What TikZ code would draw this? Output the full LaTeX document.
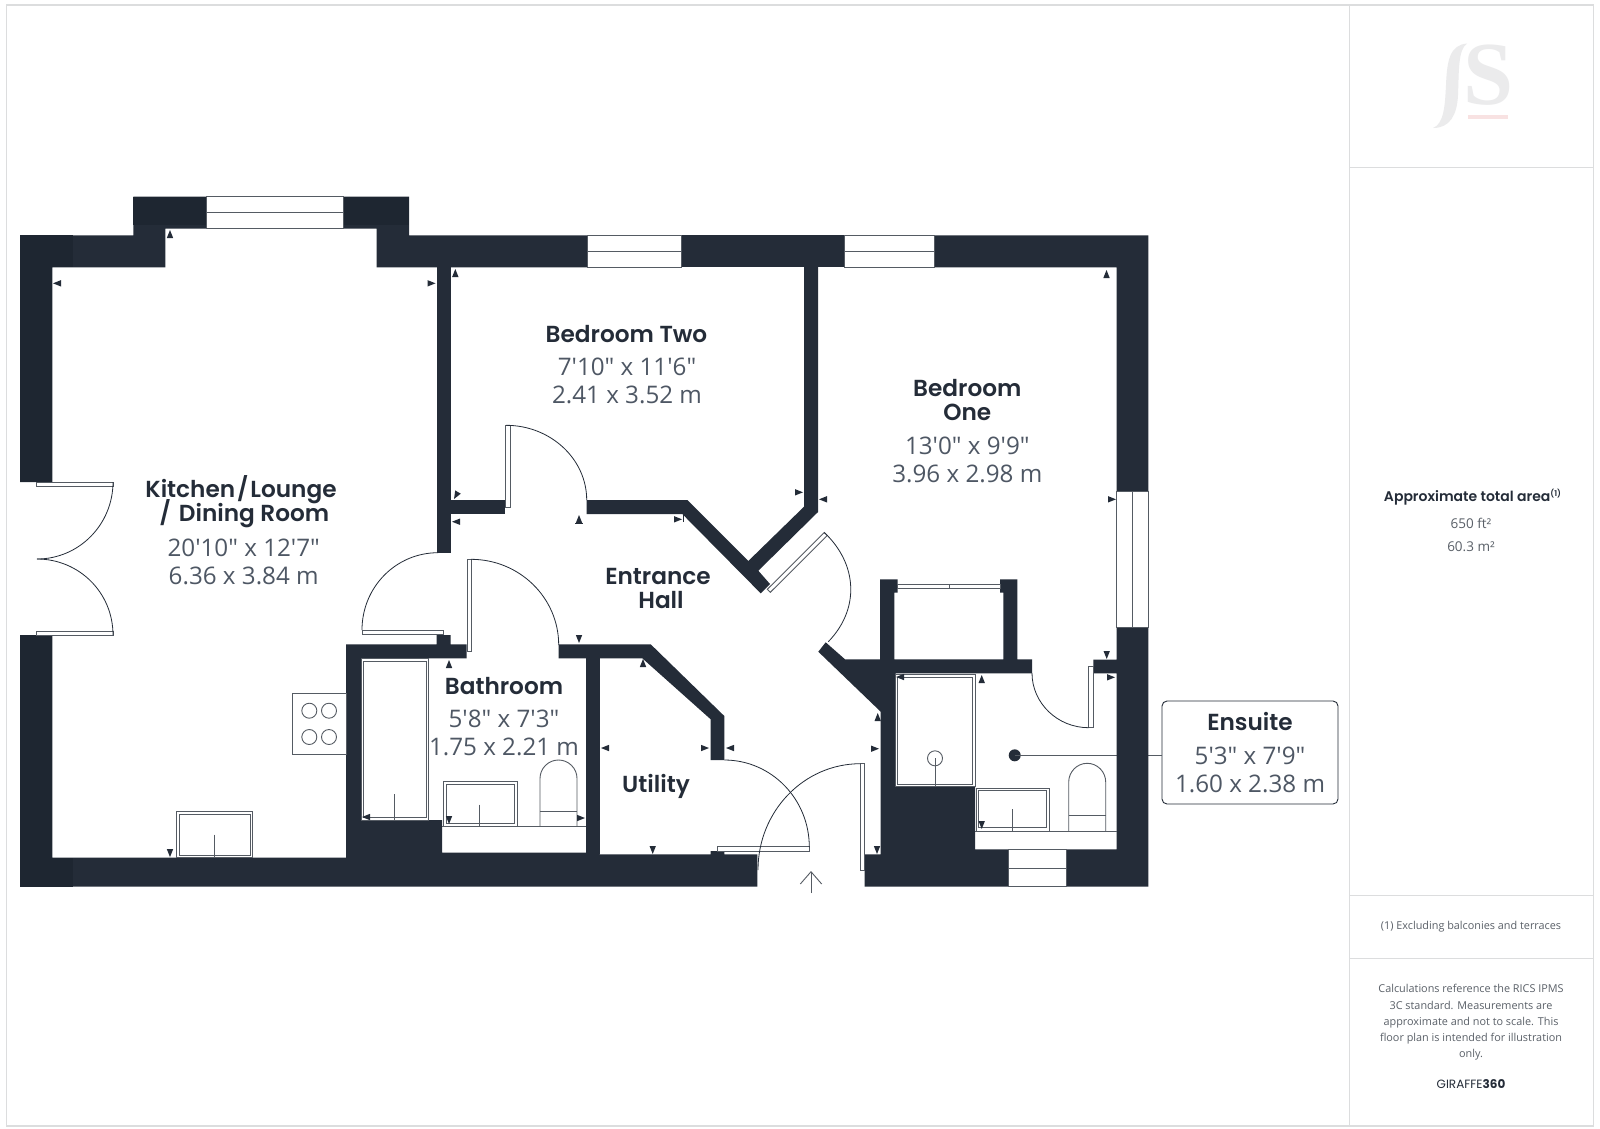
\documentclass[tikz,border=0pt]{standalone}
\usepackage{fontspec}
\setmainfont{Open Sans}
\newfontfamily\dimf{Open Sans}
\newfontfamily\tf{Poppins SemiBold}
\newfontfamily\pf{Poppins}
\newfontfamily\logofont{Liberation Serif}
\definecolor{wallc}{HTML}{242C38}
\definecolor{walld}{HTML}{1E2631}
\definecolor{linec}{HTML}{555B63}
\definecolor{dimc}{HTML}{4E5764}
\definecolor{panelc}{HTML}{DCDDDE}
\definecolor{smallc}{HTML}{5A6068}
\definecolor{logoc}{HTML}{EBEBEC}
\definecolor{logop}{HTML}{F8E2E2}
\tikzset{
  wall/.style={fill=wallc,draw=none},
  wallshade/.style={fill=walld,draw=none},
  fix/.style={draw=linec,line width=0.9pt,fill=white},
  thin line/.style={draw=linec,line width=0.9pt},
  swing/.style={draw=wallc,line width=0.8pt},
  title/.style={font=\tf\fontsize{23.2}{24}\selectfont,text=wallc,align=center,inner sep=0pt},
  dim/.style={font=\dimf\fontsize{24.2}{28}\selectfont,text=dimc,align=center,inner sep=0pt},
  small/.style={font=\fontsize{10.85}{16.2}\selectfont,text=smallc,align=center,inner sep=0pt},
  area/.style={font=\fontsize{13.5}{16}\selectfont,text=smallc,align=center,inner sep=0pt},
}
\newcommand{\tipL}[2]{\fill[wallc,shift={(#1,#2)},rotate=0] (0,0) -- (8,-3.2) -- (8,3.2) -- cycle;}
\newcommand{\tipR}[2]{\fill[wallc,shift={(#1,#2)},rotate=180] (0,0) -- (8,-3.2) -- (8,3.2) -- cycle;}
\newcommand{\tipU}[2]{\fill[wallc,shift={(#1,#2)},rotate=-90] (0,0) -- (8,-3.2) -- (8,3.2) -- cycle;}
\newcommand{\tipD}[2]{\fill[wallc,shift={(#1,#2)},rotate=90] (0,0) -- (8,-3.2) -- (8,3.2) -- cycle;}
\begin{document}
\begin{tikzpicture}[x=1pt,y=-1pt]
\useasboundingbox (0,0) rectangle (1600,1128);
\fill[white] (0,0) rectangle (1600,1128);
% frame and right panel
\draw[panelc,line width=1.2pt] (6.7,5) rectangle (1593.3,1126);
\draw[panelc,line width=1.2pt] (1349.3,5) -- (1349.3,1126);
\draw[panelc,line width=1.2pt] (1349.3,167.5) -- (1593.3,167.5);
\draw[panelc,line width=1.2pt] (1349.3,895.7) -- (1593.3,895.7);
\draw[panelc,line width=1.2pt] (1349.3,958.3) -- (1593.3,958.3);
% logo
\fill[logoc] (1467,43.5) .. controls (1450,45) and (1447,60) .. (1446,85) .. controls (1445,105) and (1444,124) .. (1433,128) .. controls (1450,128) and (1457,115) .. (1458,95) .. controls (1459,70) and (1458,50) .. (1467,43.5) -- cycle;
\node[font=\logofont\bfseries\fontsize{90}{90}\selectfont,text=logoc,inner sep=0pt] (logoS) at (1488.5,75) {S};
\fill[logop] (1468,114.7) rectangle (1508,119.3);
% connector behind walls
\node[draw=wallc,line width=0.9pt,rounded corners=5pt,fill=white,minimum width=176pt,minimum height=103pt,inner sep=0pt] (ensbox) at (1250,752.5) {};
\fill[wallc] (1014.7,755.3) circle (6pt);
\coordinate (ensdot) at (1014.7,755.3);
\draw[linec,line width=0.9pt] (ensdot) -- (ensbox.west |- ensdot);
% walls
\fill[wall] (20,235.3) -- (133.3,235.3) -- (133.3,196.7) -- (206,196.7) -- (206,228.7) -- (165.3,228.7) -- (165.3,267.3) -- (52.3,267.3) -- (52.3,482) -- (20,482) -- cycle;
\fill[wall] (343.3,196.7) -- (409,196.7) -- (409,235.3) -- (587.6,235.3) -- (587.6,267.3) -- (376.7,267.3) -- (376.7,228.7) -- (343.3,228.7) -- cycle;
\fill[wall] (681.6,235.3) rectangle (844,267.3);
\fill[wall] (934.5,235.3) -- (1148.3,235.3) -- (1148.3,491.7) -- (1116.7,491.7) -- (1116.7,267.3) -- (934.5,267.3) -- cycle;
\fill[wall] (436.7,267.3) rectangle (450.7,552.7);
\fill[wall] (450.7,500) rectangle (505.3,514);
\fill[wall] (586.7,500) -- (687.3,500) -- (748.3,561) -- (804,506.7) -- (804,267) -- (818,267) -- (818,512) -- (758.3,570.7) -- (770,584) -- (760.7,593.3) -- (682.3,514) -- (586.7,514) -- cycle;
\fill[wall] (20,635) -- (52.3,635) -- (52.3,857.7) -- (346,857.7) -- (346,644.3) -- (436.7,644.3) -- (436.7,635) -- (450.7,635) -- (450.7,644.3) -- (466.7,644.3) -- (466.7,658.3) -- (361,658.3) -- (361,820) -- (442,820) -- (442,852.7) -- (586,852.7) -- (600.3,854.3) -- (710.7,854.3) -- (710.7,851) -- (724.3,851) -- (724.3,854.3) -- (757.3,854.3) -- (757.3,886.7) -- (20,886.7) -- cycle;
\fill[wall] (586,658) rectangle (600.3,854.3);
\fill[wall] (558.7,644.3) -- (650.7,644.3) -- (724.3,716) -- (724.3,760) -- (710.7,760) -- (710.7,719.3) -- (642.3,658.3) -- (558.7,658.3) -- cycle;
\fill[wall] (818.3,651.7) -- (825.7,642.3) -- (845,659.3) -- (880,659.3) -- (880,579.3) -- (897.7,579.3) -- (897.7,592.7) -- (894.3,592.7) -- (894.3,659.3) -- (1003.3,659.3) -- (1003.3,592.7) -- (1000,592.7) -- (1000,579.3) -- (1017.3,579.3) -- (1017.3,659.3) -- (1032,659.3) -- (1032,673.3) -- (895.7,673.3) -- (895.7,786.3) -- (975,786.3) -- (975,849.3) -- (1008,849.3) -- (1008,886.7) -- (864.7,886.7) -- (864.7,854.3) -- (880.7,854.3) -- (880.7,711.7) -- cycle;
\fill[wall] (1116.7,627.3) -- (1148.3,627.3) -- (1148.3,886.7) -- (1066,886.7) -- (1066,849.3) -- (1116.7,849.3) -- (1116.7,673.3) -- (1093.3,673.3) -- (1093.3,659.7) -- (1116.7,659.7) -- cycle;
% darker wall portions
\fill[wallshade] (20,235.3) rectangle (73,267.3);
\fill[wallshade] (20,267.3) rectangle (52.3,482);
\fill[wallshade] (20,635) rectangle (52.3,857.7);
\fill[wallshade] (20,857.7) rectangle (73,886.7);
\fill[wallshade] (133.3,196.7) rectangle (206,225);
\fill[wallshade] (343.3,196.7) rectangle (409,225);
% windows
\draw[fix] (206,196.7) rectangle (343.3,228.7);
\draw[thin line] (206,212.7) -- (343.3,212.7);
\draw[fix] (587.6,235.3) rectangle (681.6,267.3);
\draw[thin line] (587.6,251.3) -- (681.6,251.3);
\draw[fix] (844,235.3) rectangle (934.5,267.3);
\draw[thin line] (844,251.3) -- (934.5,251.3);
\draw[fix] (1116.7,491.7) rectangle (1148.3,627.3);
\draw[thin line] (1132.7,491.7) -- (1132.7,627.3);
\draw[fix] (1008,849.3) rectangle (1066,886.7);
\draw[thin line] (1008,868.7) -- (1066,868.7);
% doors: frames
\draw[fix] (36,482) rectangle (113,486);
\draw[fix] (36,631) rectangle (113,635);
\draw[fix] (362,630) rectangle (443,634);
\draw[fix] (505.7,425.3) rectangle (510.3,507.3);
\draw[fix] (467.3,559.3) rectangle (471.7,651);
\draw[fix] (767.3,589.3) -- (824.3,532.5) -- (827.3,535.5) -- (770.3,592.3) -- cycle;
\draw[fix] (717.3,846.7) rectangle (809.3,851.3);
\draw[fix] (860.3,763.7) rectangle (864.7,870.7);
\draw[fix] (1088.7,666) rectangle (1093.3,727.7);
\draw[fix] (897.7,584) rectangle (1000,588);
\draw[thin line] (949,584) -- (949,588);
% doors: swings
\draw[swing] (113,482) .. controls (113,524.5) and (79,559) .. (37,559);
\draw[swing] (37,559) .. controls (79,559) and (113,592.5) .. (113,635);
\draw[swing] (438,552.7) .. controls (396,552.7) and (362,587) .. (362,630);
\draw[swing] (506,425.3) .. controls (550.6,425.3) and (586.7,459) .. (586.7,500);
\draw[swing] (471,559.3) .. controls (519.4,559.3) and (558.7,597.7) .. (558.7,645);
\draw[swing] (824.3,532.5) .. controls (857.7,564) and (860,609) .. (828.3,641.7);
\draw[swing] (724.3,760) .. controls (771.3,760) and (809.3,799) .. (809.3,847);
\draw[swing] (758,870) .. controls (758,811.3) and (803.8,763.7) .. (860.3,763.7);
\draw[swing] (1032,673) .. controls (1032,703) and (1057.4,727.7) .. (1088.7,727.7);
% entrance arrow
\coordinate (arrtip) at (811,871.7);
\coordinate (arrend) at (811,893);
\draw[linec,line width=0.9pt] (arrend) -- (arrtip);
\draw[linec,line width=0.9pt] (800.3,884) -- (arrtip) -- (821.7,884);
% hob
\draw[fix] (292.3,693) rectangle (346,754.7);
\foreach \cx in {309.3,329} \foreach \cy in {710.7,737} \draw[thin line] (\cx,\cy) circle (7.5pt);
% kitchen sink
\draw[fix] (176,811) rectangle (252.7,857.7);
\draw[thin line] (179,814) rectangle (250,855);
\draw[thin line] (214,834.7) -- (214,857.7);
% bath
\draw[fix] (361,658.7) rectangle (428.7,820);
\draw[thin line] (363.7,661) rectangle (426,817);
\draw[thin line] (394.7,794) -- (394.7,820);
% bathroom sink and wc
\draw[fix] (443.3,781.7) rectangle (517.3,826.7);
\draw[thin line] (446.3,784.7) rectangle (514.3,823.5);
\draw[thin line] (479.7,804.7) -- (479.7,826.7);
\draw[thin line] (540,826.7) -- (540,778.5) .. controls (540,768.3) and (548.3,760) .. (558.5,760) .. controls (568.7,760) and (577,768.3) .. (577,778.5) -- (577,826.7);
\draw[thin line] (540,811) -- (577,811);
\draw[thin line] (442,826.7) -- (586,826.7);
% shower
\draw[fix] (895.7,674.7) rectangle (975,786.3);
\draw[thin line] (897.7,677) rectangle (972.3,784.3);
\draw[thin line] (935,758.3) circle (7.5pt);
\draw[thin line] (935,758.3) -- (935,786.3);
% ensuite sink and wc
\draw[fix] (976,788) rectangle (1049.3,831);
\draw[thin line] (978.7,790.7) rectangle (1046.7,827.7);
\draw[thin line] (1012.3,809.3) -- (1012.3,831);
\draw[thin line] (1068.7,831) -- (1068.7,782) .. controls (1068.7,771.8) and (1077,763.3) .. (1087.2,763.3) .. controls (1097.4,763.3) and (1105.7,771.8) .. (1105.7,782) -- (1105.7,831);
\draw[thin line] (1068.7,815) -- (1105.7,815);
\draw[thin line] (975,831) -- (1116.7,831);
% dimension marks
\tipL{53}{283.3}\tipL{452}{521.7}\tipL{362}{817}\tipL{601}{748}\tipL{726}{748}\tipL{896}{677}\tipL{819}{499.3}
\tipR{435.5}{283.3}\tipR{682}{519.3}\tipR{803}{492.3}\tipR{709}{748}\tipR{585}{818}\tipR{879}{748.7}\tipR{1115}{677.3}\tipR{1116}{499.3}
\tipU{170}{230}\tipU{455.3}{269}\tipU{449}{660}\tipU{579}{515}\tipU{643}{659}\tipU{877.7}{713}\tipU{981.7}{675}\tipU{1106.5}{270}
\tipD{170}{857}\tipD{449}{824}\tipD{579}{643}\tipD{652.7}{854}\tipD{877}{854}\tipD{1106.7}{659}\tipD{981.7}{829}
\fill[wallc,shift={(454,499)},rotate=60] (0,0) -- (8,-3.2) -- (8,3.2) -- cycle;
\draw[wallc,line width=0.7pt] (575,523) -- (583,523);
\draw[wallc,line width=0.7pt] (683,514) -- (683,522);
% room labels
\node[title] (kt1) at (241,490) {Kitchen\kern2pt/\kern2pt Lounge};
\node[title] (kt2) at (244.5,514) {/\kern8pt Dining Room};
\node[dim] (kd) at (243.7,561.5) {20'10" x 12'7"\\6.36 x 3.84 m};
\node[title] (b2t) at (626.5,333.7) {Bedroom Two};
\node[dim] (b2d) at (627,380.5) {7'10" x 11'6"\\2.41 x 3.52 m};
\node[title] (b1t) at (967.3,400) {Bedroom\\One};
\node[dim] (b1d) at (967.3,459.5) {13'0" x 9'9"\\3.96 x 2.98 m};
\node[title] (ent) at (658,588) {Entrance\\\hspace*{6pt}Hall};
\node[title] (bat) at (504,685.7) {Bathroom};
\node[dim] (bad) at (504,732.5) {5'8" x 7'3"\\1.75 x 2.21 m};
\node[title] (utl) at (656,786.7) {Utility};
\node[title] (ent2) at (1250,721.5) {Ensuite};
\node[dim] (end) at (1250,769.5) {5'3" x 7'9"\\1.60 x 2.38 m};
% panel text
\node[inner sep=0pt,font=\tf\fontsize{14}{14}\selectfont,text=wallc] (areat) at (1472.5,497.5) {Approximate total area\raisebox{5pt}{\fontsize{8}{8}\selectfont(1)}};
\node[area] (ft) at (1471,523.3) {650 ft²};
\node[area] (mt) at (1471,546.7) {60.3 m²};
\node[small] (excl) at (1471,927) {(1) Excluding balconies and terraces};
\node[small] (calc) at (1471,1022.5) {Calculations reference the RICS IPMS\\3C standard. Measurements are\\approximate and not to scale. This\\floor plan is intended for illustration\\only.};
\node[inner sep=0pt,font=\pf\fontsize{12}{12}\selectfont,text=wallc] (gir) at (1471,1084) {GIRAFFE\textbf{360}};
\end{tikzpicture}
\end{document}
